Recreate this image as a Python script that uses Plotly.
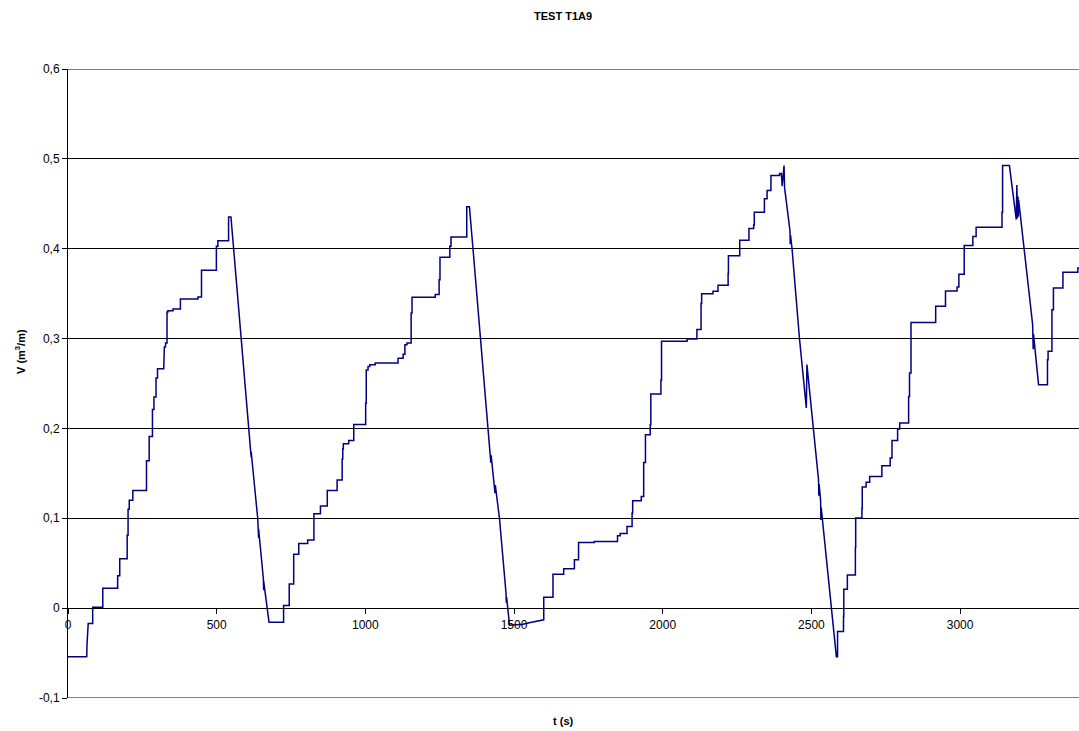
import plotly.graph_objects as go

# ---- data: vertices of the measured V(t) trace (t in s, V in m3/m) ----
rise1_t = [0, 63, 64, 68, 83, 83, 117, 117, 167, 167, 174, 174, 199, 199, 202, 202, 206, 206, 218, 218,
           264, 264, 273, 273, 284, 284, 289, 289, 296, 296, 301, 301, 322, 322, 324, 324, 328, 328, 333, 333,
           336, 336, 353, 353, 378, 378, 437, 437, 449, 449, 499, 499, 504, 504, 540, 540, 548]
rise1_v = [-0.054, -0.054, -0.040, -0.017, -0.017, 0.001, 0.001, 0.022, 0.022, 0.036, 0.036, 0.055, 0.055, 0.081,
           0.081, 0.110, 0.110, 0.120, 0.120, 0.131, 0.131, 0.164, 0.164, 0.191, 0.191, 0.221, 0.221, 0.235,
           0.235, 0.256, 0.256, 0.2665, 0.2665, 0.272, 0.272, 0.2906, 0.2906, 0.295, 0.295, 0.3296, 0.3296, 0.331,
           0.331, 0.333, 0.333, 0.344, 0.344, 0.3463, 0.3463, 0.376, 0.376, 0.4027, 0.4027, 0.409, 0.409, 0.4354,
           0.4354]

fall1_t = [583, 609, 615, 616, 616, 638, 640, 641, 641, 657, 658, 658, 676]
fall1_v = [0.30, 0.20, 0.176, 0.168, 0.174, 0.10, 0.09, 0.078, 0.088, 0.033, 0.020, 0.030, -0.0156]

rise2_t = [725, 725, 744, 744, 759, 759, 776, 776, 806, 806, 827, 827, 849, 849, 872, 872, 905, 905, 922, 922,
           924, 924, 926, 926, 944, 944, 961, 961, 1001, 1001, 1003, 1003, 1009, 1009, 1015, 1015, 1033, 1033,
           1110, 1110, 1127, 1127, 1133, 1133, 1140, 1140, 1154, 1154, 1157, 1157, 1235, 1235, 1248, 1248,
           1251, 1251, 1284, 1284, 1288, 1288, 1341, 1341, 1350]
rise2_v = [-0.0156, 0.003, 0.003, 0.027, 0.027, 0.060, 0.060, 0.072, 0.072, 0.0757, 0.0757, 0.105, 0.105, 0.1136,
           0.1136, 0.131, 0.131, 0.1425, 0.1425, 0.166, 0.166, 0.177, 0.177, 0.183, 0.183, 0.1866, 0.1866, 0.2045,
           0.2045, 0.228, 0.228, 0.265, 0.265, 0.269, 0.269, 0.271, 0.271, 0.2728, 0.2728, 0.278, 0.278, 0.2825,
           0.2825, 0.293, 0.293, 0.295, 0.295, 0.3285, 0.3285, 0.346, 0.346, 0.349, 0.349, 0.3656, 0.3656, 0.3904,
           0.3904, 0.4027, 0.4027, 0.413, 0.413, 0.4466, 0.4466]

fall2_t = [1362, 1387, 1413, 1421, 1422, 1423, 1435, 1436, 1437, 1451, 1473, 1474, 1475, 1485]
fall2_v = [0.40, 0.30, 0.20, 0.172, 0.162, 0.170, 0.135, 0.128, 0.137, 0.10, 0.017, 0.006, 0.012, -0.019]

rise3_t = [1530, 1555, 1580, 1600, 1600, 1631, 1631, 1667, 1667, 1703, 1703, 1717, 1717, 1770, 1770, 1848, 1848,
           1857, 1857, 1880, 1880, 1897, 1897, 1899, 1899, 1928, 1928, 1936, 1936, 1942, 1942, 1958, 1958, 1960,
           1960, 1994, 1994, 1996, 1996, 2082, 2082, 2115, 2115, 2129, 2129, 2131, 2131, 2169, 2169, 2186, 2186,
           2220, 2220, 2221, 2221, 2259, 2259, 2290, 2290, 2306, 2306, 2308, 2308, 2342, 2342, 2351, 2351, 2364,
           2364, 2393, 2393, 2399, 2402, 2405, 2408, 2410]
rise3_v = [-0.018, -0.016, -0.014, -0.013, 0.0122, 0.0122, 0.0378, 0.0378, 0.0438, 0.0438, 0.0538, 0.0538, 0.073,
           0.073, 0.0742, 0.0742, 0.0805, 0.0805, 0.083, 0.083, 0.0909, 0.0909, 0.1058, 0.1058, 0.1195, 0.1195,
           0.1243, 0.1243, 0.162, 0.162, 0.193, 0.193, 0.204, 0.204, 0.2383, 0.2383, 0.254, 0.254, 0.297, 0.297,
           0.2995, 0.2995, 0.310, 0.310, 0.339, 0.339, 0.350, 0.350, 0.3526, 0.3526, 0.3593, 0.3593, 0.3723,
           0.3723, 0.3923, 0.3923, 0.4094, 0.4094, 0.4224, 0.4224, 0.4265, 0.4265, 0.4405, 0.4405, 0.4555, 0.4555,
           0.4647, 0.4647, 0.4814, 0.4814, 0.4836, 0.4836, 0.4695, 0.486, 0.4925, 0.4677]

fall3_t = [2428, 2429, 2430, 2435, 2460, 2483, 2485, 2524, 2525, 2526, 2531, 2532, 2533, 2584]
fall3_v = [0.420, 0.405, 0.415, 0.40, 0.30, 0.2227, 0.271, 0.143, 0.125, 0.138, 0.120, 0.098, 0.112, -0.054]

rise4_t = [2588, 2588, 2608, 2608, 2609, 2609, 2621, 2621, 2648, 2648, 2649, 2649, 2670, 2670, 2671, 2671, 2684,
           2684, 2696, 2696, 2737, 2737, 2765, 2765, 2771, 2771, 2790, 2790, 2797, 2797, 2827, 2827, 2830, 2830,
           2835, 2835, 2918, 2918, 2951, 2951, 2990, 2990, 2996, 2996, 3014, 3014, 3043, 3043, 3054, 3054, 3141,
           3141, 3143, 3143, 3166]
rise4_v = [-0.054, -0.026, -0.026, -0.0093, -0.0093, 0.021, 0.021, 0.037, 0.037, 0.0675, 0.0675, 0.1002, 0.1002,
           0.111, 0.111, 0.1347, 0.1347, 0.140, 0.140, 0.1466, 0.1466, 0.1585, 0.1585, 0.167, 0.167, 0.1866,
           0.1866, 0.1993, 0.1993, 0.206, 0.206, 0.2356, 0.2356, 0.2617, 0.2617, 0.318, 0.318, 0.3359, 0.3359,
           0.353, 0.353, 0.3575, 0.3575, 0.3715, 0.3715, 0.4035, 0.4035, 0.4135, 0.4135, 0.4238, 0.4238, 0.4405,
           0.4405, 0.4925, 0.4925]

fall4_t = [3189, 3191, 3193, 3195, 3196, 3197, 3244, 3246, 3247, 3264]
fall4_v = [0.4324, 0.471, 0.434, 0.458, 0.436, 0.454, 0.316, 0.288, 0.305, 0.2487]

rise5_t = [3294, 3294, 3296, 3296, 3309, 3309, 3314, 3314, 3346, 3346, 3396, 3396, 3400]
rise5_v = [0.2487, 0.2765, 0.2765, 0.2858, 0.2858, 0.332, 0.332, 0.3563, 0.3563, 0.3737, 0.3737, 0.3786, 0.3786]

t = rise1_t + fall1_t + rise2_t + fall2_t + rise3_t + fall3_t + rise4_t + fall4_t + rise5_t
v = rise1_v + fall1_v + rise2_v + fall2_v + rise3_v + fall3_v + rise4_v + fall4_v + rise5_v

y_ticks = [-0.1, 0, 0.1, 0.2, 0.3, 0.4, 0.5, 0.6]
y_labels = ["-0,1", "0", "0,1", "0,2", "0,3", "0,4", "0,5", "0,6"]
x_ticks = [0, 500, 1000, 1500, 2000, 2500, 3000]
x_labels = ["0", "500", "1000", "1500", "2000", "2500", "3000"]
y_min, y_max = -0.1, 0.6
x_min, x_max = 0, 3400

FONT = "Liberation Sans, Arial, sans-serif"

fig = go.Figure()
fig.add_trace(go.Scatter(x=t, y=v, mode="lines",
                         line=dict(color="#000080", width=1.5),
                         hoverinfo="skip", showlegend=False))

W, H = 1079, 731
ml, mr, mt, mb = 68, 0, 69, H - 698
PW, PH = W - ml - mr, H - mt - mb


def px_x(x):
    return (x - ml) / PW


def px_y(y):
    return (H - mb - y) / PH


fig.update_layout(
    width=W, height=H,
    margin=dict(l=ml, r=mr, t=mt, b=mb, pad=0),
    paper_bgcolor="white", plot_bgcolor="white",
    font=dict(family=FONT, size=12, color="black"),
    showlegend=False,
    shapes=[
        # gridlines at the two range edges (plotly omits them)
        dict(type="line", xref="paper", yref="y", x0=0, x1=1, y0=y_max, y1=y_max,
             line=dict(color="black", width=1), layer="below"),
        dict(type="line", xref="paper", yref="y", x0=0, x1=1, y0=y_min, y1=y_min,
             line=dict(color="black", width=1), layer="below"),
    ],
    annotations=[
        dict(text="<b>TEST T1A9</b>", xref="paper", yref="paper",
             x=px_x(563), y=px_y(16),
             showarrow=False, xanchor="center", yanchor="middle",
             font=dict(family=FONT, size=11, color="black")),
        dict(text="<b>t (s)</b>", xref="paper", yref="paper",
             x=px_x(563), y=px_y(721),
             showarrow=False, xanchor="center", yanchor="middle",
             font=dict(family=FONT, size=11, color="black")),
        dict(text="<b>V (m<sup>3</sup>/m)</b>", xref="paper", yref="paper",
             x=px_x(20), y=px_y(352),
             textangle=-90, showarrow=False, xanchor="center", yanchor="middle",
             font=dict(family=FONT, size=11, color="black")),
    ],
)

fig.update_xaxes(
    range=[x_min, x_max],
    anchor="free", position=(0 - y_min) / (y_max - y_min),
    showline=True, linecolor="black", linewidth=1,
    ticks="outside", ticklen=5, tickcolor="black", tickwidth=1,
    tickvals=x_ticks, ticktext=x_labels,
    showgrid=False, zeroline=False, automargin=False,
    tickfont=dict(family=FONT, size=12, color="black"),
)
fig.update_yaxes(
    range=[y_min, y_max],
    showline=True, linecolor="black", linewidth=1,
    ticks="outside", ticklen=5, tickcolor="black", tickwidth=1,
    tickvals=y_ticks, ticktext=y_labels,
    showgrid=True, gridcolor="black", gridwidth=1,
    zeroline=False, automargin=False,
    tickfont=dict(family=FONT, size=12, color="black"),
)

# remove the default page margin so the 1079x731 figure fills the window exactly
fig.write_html("out.html", config={"displayModeBar": False},
               post_script="document.body.style.margin='0';document.body.style.overflow='hidden';")
